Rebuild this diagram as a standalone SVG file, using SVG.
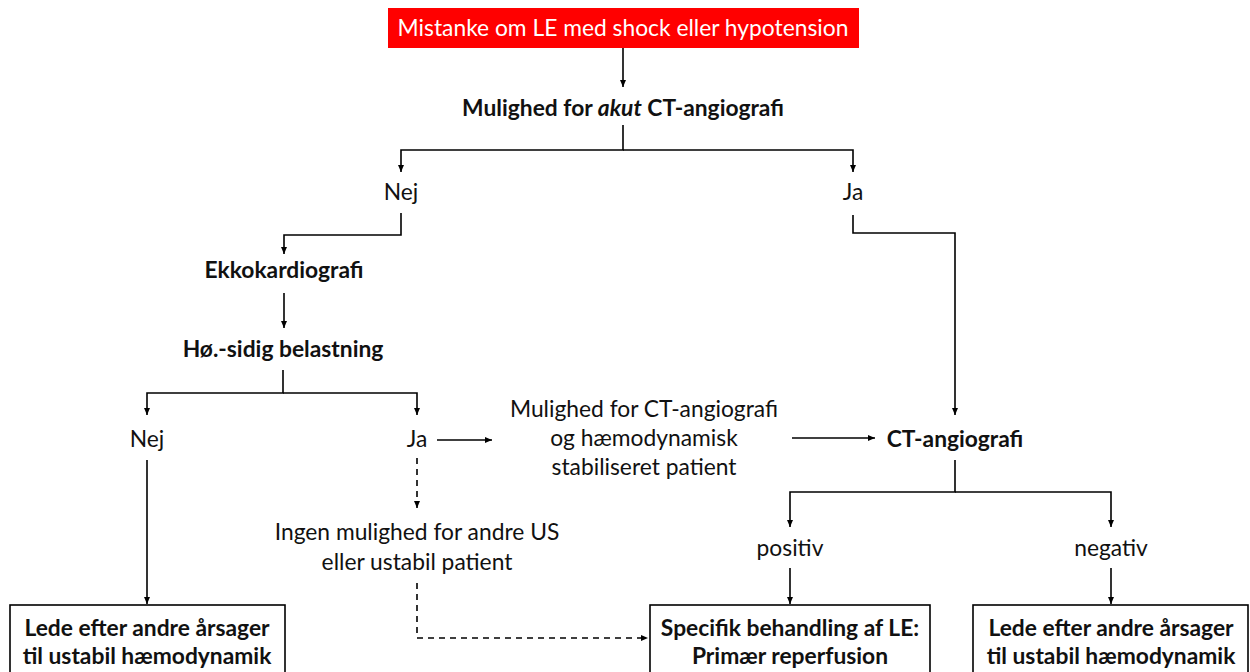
<svg xmlns="http://www.w3.org/2000/svg" width="1250" height="672" viewBox="0 0 1250 672">
<defs>
<marker id="ah" markerWidth="8" markerHeight="8" refX="7" refY="4" orient="auto" markerUnits="userSpaceOnUse">
<path d="M0,1 L7,4 L0,7 Z" fill="#000"/>
</marker>
<style>
text{font-family:Lato,"Open Sans","Liberation Sans",sans-serif;font-size:22.8px;fill:#111;text-anchor:middle}
.b{font-weight:bold}
.w{fill:#fff}
.c{fill:none;stroke:#000;stroke-width:1.6}
.d{stroke-dasharray:6,5}
.box{fill:#fff;stroke:#000;stroke-width:1.6}
</style>
</defs>
<rect width="1250" height="672" fill="#fff"/>
<g id="connectors">
<path class="c" d="M623,48 V87" marker-end="url(#ah)"/>
<path class="c" d="M623,125 V150 H401 V172" marker-end="url(#ah)"/>
<path class="c" d="M623,150 H853 V172" marker-end="url(#ah)"/>
<path class="c" d="M401,213 V235 H284 V254" marker-end="url(#ah)"/>
<path class="c" d="M284,293 V328" marker-end="url(#ah)"/>
<path class="c" d="M283,370 V393 H147 V415" marker-end="url(#ah)"/>
<path class="c" d="M283,393 H417 V415" marker-end="url(#ah)"/>
<path class="c" d="M437,440 H492" marker-end="url(#ah)"/>
<path class="c" d="M792,438 H875" marker-end="url(#ah)"/>
<path class="c" d="M853,215 V233 H955 V415" marker-end="url(#ah)"/>
<path class="c" d="M955,460 V492 H790 V527" marker-end="url(#ah)"/>
<path class="c" d="M955,492 H1111 V527" marker-end="url(#ah)"/>
<path class="c" d="M790,568 V604" marker-end="url(#ah)"/>
<path class="c" d="M1111,568 V604" marker-end="url(#ah)"/>
<path class="c" d="M147,460 V604" marker-end="url(#ah)"/>
<path class="c d" d="M417,458 V508" marker-end="url(#ah)"/>
<path class="c d" d="M417,583 V638 H648" marker-end="url(#ah)"/>
</g>
<g id="start">
<rect x="388" y="8" width="471" height="40" fill="#ff0000"/>
<text x="623" y="36" class="w">Mistanke om LE med shock eller hypotension</text>
</g>
<g id="akut"><text x="623" y="116" class="b">Mulighed for <tspan font-style="italic">akut</tspan> CT-angiografi</text></g>
<g id="nej1"><text x="401" y="200">Nej</text></g>
<g id="ja1"><text x="853" y="200">Ja</text></g>
<g id="ekko"><text x="284" y="278" class="b">Ekkokardiografi</text></g>
<g id="hoe"><text x="283" y="357" class="b">Hø.-sidig belastning</text></g>
<g id="nej2"><text x="147" y="447">Nej</text></g>
<g id="ja2"><text x="417" y="447">Ja</text></g>
<g id="mulighed"><text x="644" y="417">Mulighed for CT-angiografi</text><text x="644" y="446">og hæmodynamisk</text><text x="644" y="475">stabiliseret patient</text></g>
<g id="ct"><text x="955" y="447" class="b">CT-angiografi</text></g>
<g id="ingen"><text x="417" y="540">Ingen mulighed for andre US</text><text x="417" y="570">eller ustabil patient</text></g>
<g id="positiv"><text x="790" y="556">positiv</text></g>
<g id="negativ"><text x="1111" y="556">negativ</text></g>
<g id="box1"><rect class="box" x="10" y="605" width="275" height="80"/><text x="147" y="636" class="b">Lede efter andre årsager</text><text x="147" y="664" class="b">til ustabil hæmodynamik</text></g>
<g id="box2"><rect class="box" x="650" y="605" width="280" height="80"/><text x="790" y="636" class="b">Specifik behandling af LE:</text><text x="790" y="664" class="b">Primær reperfusion</text></g>
<g id="box3"><rect class="box" x="973" y="605" width="275" height="80"/><text x="1111" y="636" class="b">Lede efter andre årsager</text><text x="1111" y="664" class="b">til ustabil hæmodynamik</text></g>
</svg>
